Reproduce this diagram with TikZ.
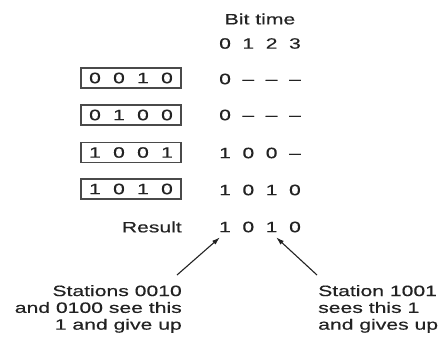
\documentclass[tikz,border=0pt]{standalone}
\usepackage{fontspec}
\setmainfont{Liberation Sans}[FakeStretch=1.41, FakeBold=0.4]
\usetikzlibrary{arrows.meta, calc}
\definecolor{ink}{HTML}{222222}
\definecolor{rule}{HTML}{4A4A4A}
\newcommand{\cells}[5]{\makebox[#1]{#2}\makebox[#1]{#3}\makebox[#1]{#4}\makebox[#1]{#5}}

\begin{document}
\begin{tikzpicture}[x=1pt, y=-1pt,
  >={Latex[length=8pt, width=5pt]},
  lbl/.style={font=\fontsize{15}{16.8}\selectfont, text=ink, inner sep=0pt},
  stn/.style={lbl, draw=rule, line width=1.1pt, minimum width=100pt, minimum height=20pt},
  arr/.style={->, line width=1.1pt, ink},
]
\useasboundingbox (0,0) rectangle (438,340);

% === Header: bit slots ===
\node[lbl] (bittime) at (260,19) {Bit time};
\node[lbl] (slots) at (260,43.5) {\cells{23.3pt}{0}{1}{2}{3}};

% === Stations and what they send ===
\node[stn] (st1) at (131,78) {\cells{24pt}{0}{0}{1}{0}};
\node[lbl] (bits1) at (260,79) {\cells{23.3pt}{0}{--}{--}{--}};

\node[stn] (st2) at (131,115) {\cells{24pt}{0}{1}{0}{0}};
\node[lbl] (bits2) at (260,115) {\cells{23.3pt}{0}{--}{--}{--}};

\node[stn] (st3) at (131,152.5) {\cells{24pt}{1}{0}{0}{1}};
\node[lbl] (bits3) at (260,153) {\cells{23.3pt}{1}{0}{0}{--}};

\node[stn] (st4) at (131,189) {\cells{24pt}{1}{0}{1}{0}};
\node[lbl] (bits4) at (260,190) {\cells{23.3pt}{1}{0}{1}{0}};

% === Result row ===
\node[lbl, anchor=east] (result) at (182,227) {Result};
\node[lbl] (res0) at (225,227) {1};
\node[lbl] (res1) at (248.3,227) {0};
\node[lbl] (res2) at (271.6,227) {1};
\node[lbl] (res3) at (295,227) {0};

% === Notes below ===
\node[lbl, align=right, anchor=north east] (lose) at (182,285)
  {Stations 0010\\and 0100 see this\\1 and give up};
\node[lbl, align=left, anchor=north west] (win) at (318,285)
  {Station 1001\\sees this 1\\and gives up};

% Arrows: notes -> result bits
\draw[arr] ([shift={(-5pt,10pt)}]lose.north east) -- ([shift={(1pt,-5pt)}]res0.south west);
\draw[arr] ([shift={(-1pt,10pt)}]win.north west) -- ([shift={(-1.5pt,-5pt)}]res2.south east);

\end{tikzpicture}
\end{document}
